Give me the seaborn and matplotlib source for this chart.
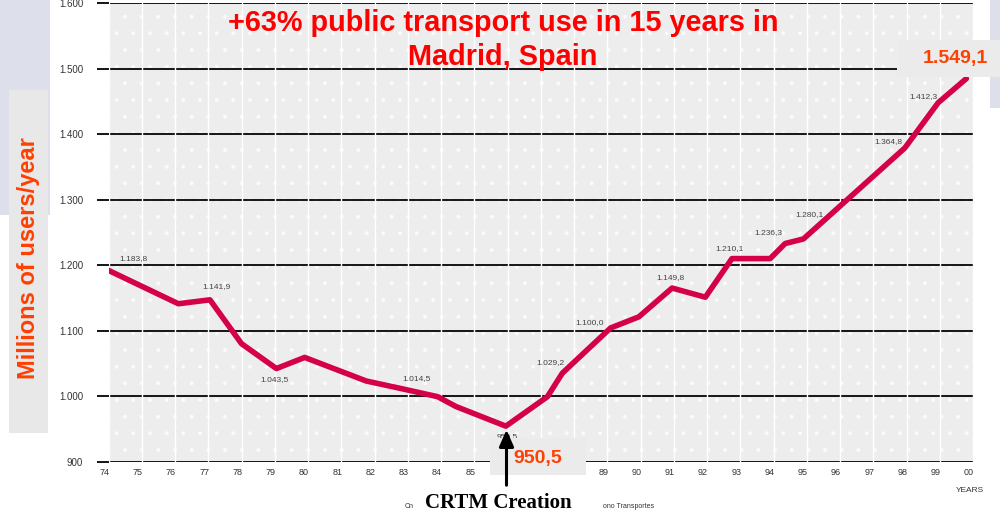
import matplotlib
matplotlib.use("Agg")
import matplotlib.pyplot as plt
import seaborn as sns
from matplotlib.patches import Rectangle, FancyArrowPatch
from matplotlib.transforms import ScaledTranslation

# ---------------- data ----------------
line_years = [74.0, 76.1, 77.05, 78.0, 79.05, 79.9, 81.75, 82.75, 83.9, 84.45,
              85.95, 87.2, 87.65, 89.1, 89.95, 90.95, 91.95, 92.75, 93.9, 94.35,
              94.9, 97.95, 98.95, 99.8]
line_values = [1192, 1141, 1147, 1080, 1042, 1059, 1023, 1012, 999, 984,
               954, 999, 1035, 1104, 1121, 1165, 1151, 1210, 1210, 1233,
               1240, 1379, 1448, 1485]

label_years = [74.75, 77.25, 79.0, 83.25, 86.0, 87.28, 88.48, 90.89, 92.68,
               93.84, 95.08, 97.45, 98.5]
label_values = [1183.8, 1141.9, 1043.5, 1014.5, 950.5, 1029.2, 1100.0, 1149.8,
                1210.1, 1236.3, 1280.1, 1364.8, 1412.3]

x_ticks = list(range(74, 101))
x_tick_labels = [f"{y % 100:02d}" for y in x_ticks]
y_ticks = list(range(900, 1700, 100))

min_value = 950.5
max_value = 1549.1

title_text = "+63% public transport use in 15 years in\nMadrid, Spain"
ylabel_text = "Millions of users/year"

# ---------------- layout / style ----------------
label_dy = [12.7, 11.8, -8.4, 5.9, -5.9, 10.3, 5.7, 15, 7.5, 6, -1, 11.4, 21.4]


def es_fmt(v, dec=1):
    s = f"{v:,.{dec}f}"
    return s.replace(",", "X").replace(".", ",").replace("X", ".")


sns.set_style("white")
plt.rcParams['font.family'] = ['Liberation Sans', 'DejaVu Sans']
plt.rcParams['hatch.linewidth'] = 0.4

W, H = 1000, 515
fig = plt.figure(figsize=(W / 100, H / 100), dpi=100)
fig.patch.set_facecolor("white")

left, right = 108.5 / W, 973 / W
bottom, top = 1 - 461.5 / H, 1 - 3.3 / H
ax = fig.add_axes([left, bottom, right - left, top - bottom])
ax.set_facecolor("#EDEDED")
ax.add_patch(Rectangle((0, 0), 1, 1, transform=ax.transAxes, facecolor="#EDEDED",
                       edgecolor="#FBFBFB", hatch=".", lw=0, zorder=0))

ax.set_xlim(74, 100)
ax.set_ylim(900, 1600)

for yv in y_ticks:
    ax.axhline(yv, color="#1a1a1a", lw=1.45, zorder=1)
for xv in x_ticks:
    ax.axvline(xv, color="white", lw=1.0, zorder=1.5)

sns.lineplot(x=line_years, y=line_values, ax=ax, color="#D5004A", lw=4.0,
             sort=False, estimator=None, zorder=3)

for yr, val, dy in zip(label_years, label_values, label_dy):
    ax.annotate(es_fmt(val), xy=(yr, val), xytext=(0, dy), textcoords="offset points",
                ha="center", va="center", fontsize=6, color="#444444", zorder=4)

for s in ax.spines.values():
    s.set_visible(False)

ax.set_xticks(x_ticks)
ax.set_xticklabels(x_tick_labels)
ax.set_yticks(y_ticks)
ax.set_yticklabels([es_fmt(v, 0) for v in y_ticks])
ax.tick_params(axis="y", length=8.3, width=1.45, color="#1a1a1a", pad=10,
               labelsize=7, labelcolor="#333333", left=True)
ax.tick_params(axis="x", length=0, pad=4.5, labelsize=6.5, labelcolor="#333333")
off = ScaledTranslation(-4 / 100, 0, fig.dpi_scale_trans)
for lab in ax.get_xticklabels():
    lab.set_transform(lab.get_transform() + off)
ax.set_xlabel("")
ax.set_ylabel("")

# ---------------- figure decorations ----------------
def px_rect(x0, y0, x1, y1, color, z=1):
    fig.patches.append(Rectangle((x0 / W, 1 - y1 / H), (x1 - x0) / W, (y1 - y0) / H,
                                 transform=fig.transFigure, facecolor=color,
                                 edgecolor="none", zorder=z))

px_rect(0, 0, 50, 215, "#DDE0EA")
px_rect(990, 0, 1000, 108, "#DDE0EA")
px_rect(9, 90, 48, 433, "#E8E8E8")
px_rect(897, 40, 1000, 77, "#EBEBEB", z=2)
px_rect(490, 438, 586, 475, "#EBEBEB", z=2)

fig.text(29 / W, 1 - 258 / H, ylabel_text, rotation=90, ha="center", va="center",
         fontsize=17, fontweight="bold", color="#FF4000", zorder=3)

fig.text(503 / W, 1 - 40 / H, title_text, ha="center", va="center", fontsize=20.8,
         fontweight="bold", color="#FF0000", linespacing=1.24, zorder=3)

fig.text(955 / W, 1 - 58 / H, es_fmt(max_value), ha="center", va="center",
         fontsize=14, fontweight="bold", color="#FF4000", zorder=3)
fig.text(538 / W, 1 - 458 / H, es_fmt(min_value), ha="center", va="center",
         fontsize=14, fontweight="bold", color="#FF4000", zorder=3)

fig.add_artist(FancyArrowPatch((506.5 / W, 1 - 488 / H), (506.5 / W, 1 - 427 / H),
                               transform=fig.transFigure,
                               arrowstyle="-|>,head_width=0.22,head_length=0.5",
                               mutation_scale=20, lw=2.2, color="black", zorder=5))

fig.text(970 / W, 1 - 490 / H, "YEARS", ha="center", va="center", fontsize=6,
         color="#333333")
fig.text(498 / W, 1 - 503 / H, "CRTM Creation", ha="center", va="center", fontsize=15,
         fontweight="bold", color="black", family=["Liberation Serif", "DejaVu Serif"])
fig.text(409 / W, 1 - 507 / H, "Cn", ha="center", va="center", fontsize=5, color="#333333")
fig.text(629 / W, 1 - 507 / H, "ono Transportes", ha="center", va="center", fontsize=5,
         color="#333333")

fig.savefig("out.png", dpi=100, facecolor="white")
